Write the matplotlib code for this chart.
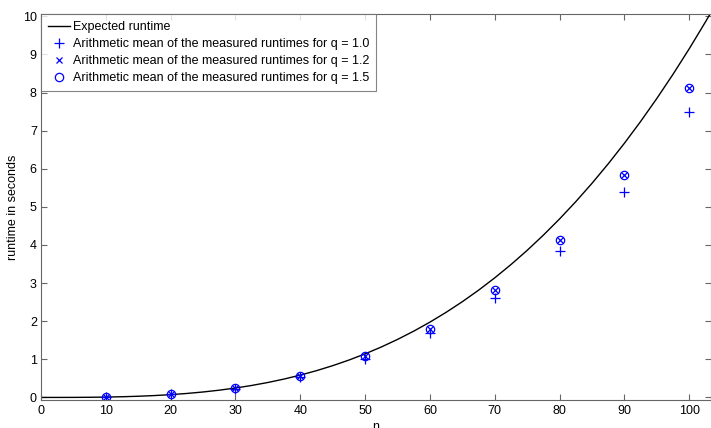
import matplotlib
matplotlib.use("Agg")
import matplotlib.pyplot as plt

plt.rcParams['font.family'] = ['Liberation Sans', 'DejaVu Sans']

# Expected runtime curve
curve_n = [0, 2.5, 5, 7.5, 10, 12.5, 15, 17.5, 20, 22.5, 25, 27.5, 30, 32.5, 35, 37.5, 40,
           42.5, 45, 47.5, 50, 52.5, 55, 57.5, 60, 62.5, 65, 67.5, 70, 72.5, 75, 77.5, 80,
           82.5, 85, 87.5, 90, 92.5, 95, 97.5, 100, 102.5, 103.3]
curve_t = [0.0, 0.0001, 0.0011, 0.0039, 0.0092, 0.0179, 0.0309, 0.0490, 0.0732, 0.1042,
           0.1430, 0.1903, 0.2471, 0.3141, 0.3923, 0.4825, 0.5856, 0.7024, 0.8338, 0.9806,
           1.1438, 1.3240, 1.5223, 1.7395, 1.9764, 2.2339, 2.5129, 2.8141, 3.1385, 3.4869,
           3.8601, 4.2592, 4.6848, 5.1379, 5.6195, 6.1298, 6.6704, 7.2418, 7.8449, 8.4808,
           9.1500, 9.8536, 10.086]

n_vals = [10, 20, 30, 40, 50, 60, 70, 80, 90, 100]
mean_q10 = [0.02, 0.08, 0.23, 0.53, 1.01, 1.69, 2.61, 3.84, 5.38, 7.50]
mean_q12 = [0.02, 0.09, 0.25, 0.57, 1.08, 1.80, 2.83, 4.13, 5.84, 8.12]
mean_q15 = [0.02, 0.09, 0.25, 0.57, 1.08, 1.80, 2.83, 4.13, 5.84, 8.12]

x_ticks = [0, 10, 20, 30, 40, 50, 60, 70, 80, 90, 100]
y_ticks = [0, 1, 2, 3, 4, 5, 6, 7, 8, 9, 10]

fig = plt.figure(figsize=(7.11, 4.28), dpi=100)
ax = fig.add_axes([0.0577, 0.0643, 0.9418, 0.902])

ax.plot(curve_n, curve_t, color='black', lw=1.0, label='Expected runtime')
ax.plot(n_vals, mean_q10, linestyle='none', marker='+', color='blue', ms=7, mew=0.9,
        label='Arithmetic mean of the measured runtimes for q = 1.0')
ax.plot(n_vals, mean_q12, linestyle='none', marker='x', color='blue', ms=4.5, mew=0.9,
        label='Arithmetic mean of the measured runtimes for q = 1.2')
ax.plot(n_vals, mean_q15, linestyle='none', marker='o', mfc='none', color='blue', ms=6, mew=0.9,
        label='Arithmetic mean of the measured runtimes for q = 1.5')

ax.set_xlim(0, 103.3)
ax.set_ylim(-0.08, 10.05)
ax.set_xticks(x_ticks)
ax.set_yticks(y_ticks)
ax.tick_params(direction='in', top=True, right=True, length=4, width=0.8,
               color='#666666', labelsize=9, pad=3)
for s in ax.spines.values():
    s.set_color('#666666')
    s.set_linewidth(0.8)

ax.set_xlabel('n', fontsize=9, labelpad=3)
ax.set_ylabel('runtime in seconds', fontsize=9, labelpad=3)

leg = ax.legend(loc='upper left', fontsize=9, frameon=True, fancybox=False,
                edgecolor='#666666', borderaxespad=0.0, handlelength=1.8,
                handletextpad=0.2, labelspacing=0.4, borderpad=0.55)
leg.get_frame().set_linewidth(0.8)

fig.savefig('out.png', dpi=100)
